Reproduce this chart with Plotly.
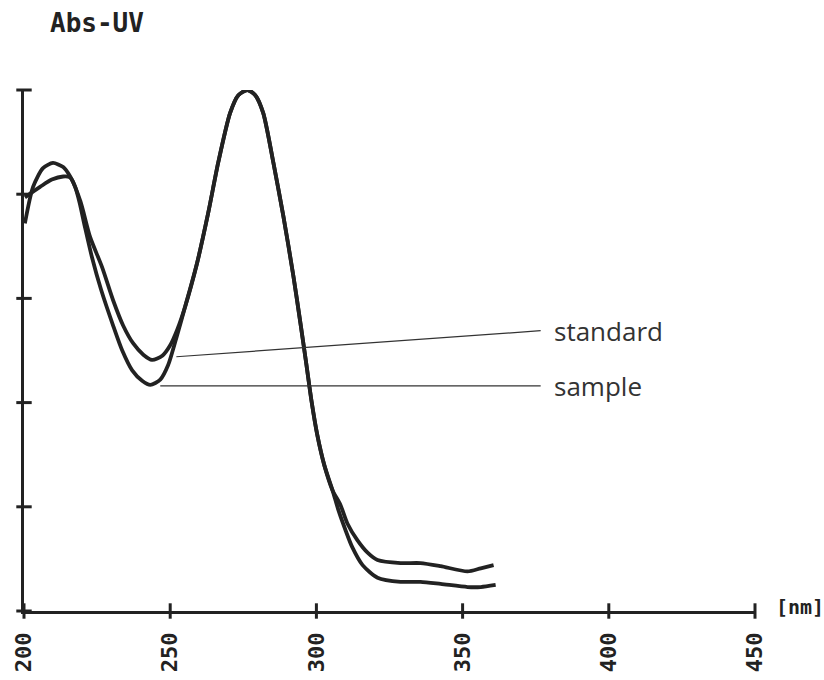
import plotly.graph_objects as go

# Wavelength (nm) and absorbance readings (arbitrary units, 0-5 scale)
sample_nm = [200.3, 203.1, 206.5, 209.9, 213.4, 215.8, 217.5, 219.0, 220.8, 223.2, 226.4, 230.6,
             233.6, 237.0, 240.4, 243.2, 246.6, 249.3, 252.4, 255.1, 259.2, 263.0, 266.4, 270.5,
             273.3, 276.4, 279.1, 281.8, 285.3, 288.7, 292.1, 294.5, 296.6, 298.3, 300.3, 302.7,
             305.5, 307.5, 309.9, 312.3, 315.8, 320.9, 328.8, 335.6, 342.5, 351.7, 356.2, 361.3]
sample_abs = [3.72, 4.07, 4.25, 4.30, 4.26, 4.17, 4.07, 3.92, 3.69, 3.40, 3.08, 2.73,
              2.50, 2.31, 2.21, 2.17, 2.22, 2.36, 2.65, 2.92, 3.34, 3.82, 4.30, 4.78,
              4.95, 5.00, 4.95, 4.78, 4.30, 3.79, 3.22, 2.77, 2.36, 2.02, 1.69, 1.40,
              1.16, 0.97, 0.78, 0.61, 0.44, 0.32, 0.28, 0.28, 0.26, 0.23, 0.23, 0.25]

standard_nm = [200.3, 205.5, 209.5, 213.4, 215.8, 219.2, 222.6, 226.7, 230.5, 233.9, 237.3, 240.8,
               243.8, 247.3, 250.0, 252.4, 255.1, 259.2, 263.0, 266.4, 270.5, 273.3, 276.4, 279.1,
               281.8, 285.3, 288.7, 292.1, 294.5, 296.6, 298.3, 300.3, 302.7, 305.5, 308.2,
               310.6, 314.0, 317.5, 320.9, 328.8, 335.6, 342.5, 351.7, 356.2, 360.6]
standard_abs = [3.97, 4.07, 4.14, 4.17, 4.16, 3.94, 3.59, 3.30, 2.98, 2.74, 2.57, 2.46,
                2.41, 2.45, 2.55, 2.70, 2.92, 3.34, 3.82, 4.30, 4.78, 4.95, 5.00, 4.95,
                4.78, 4.30, 3.79, 3.22, 2.77, 2.36, 2.02, 1.69, 1.40, 1.16, 1.02,
                0.84, 0.68, 0.56, 0.49, 0.46, 0.46, 0.43, 0.38, 0.41, 0.44]

x_ticks = [200, 250, 300, 350, 400, 450]
x_tick_labels = ["200", "250", "300", "350", "400", "450"]
y_ticks = [0, 1, 2, 3, 4, 5]

# label leader points: (curve point) -> (label position)
labels = ["standard", "sample"]
label_curve_nm = [252.1, 246.6]
label_curve_abs = [2.44, 2.16]
label_text_nm = [376.7, 376.7]
label_text_abs = [2.69, 2.16]

ink = "#222222"

fig = go.Figure()
for xs, ys in ((standard_nm, standard_abs), (sample_nm, sample_abs)):
    fig.add_trace(go.Scatter(x=xs, y=ys, mode="lines",
                             line=dict(color=ink, width=3.8, shape="spline", smoothing=0.7),
                             showlegend=False, hoverinfo="skip"))

# tick marks crossing the axes
fig.add_trace(go.Scatter(x=x_ticks, y=[0] * len(x_ticks), mode="markers",
                         marker=dict(symbol="line-ns", size=11, line=dict(width=3, color=ink)),
                         cliponaxis=False, showlegend=False, hoverinfo="skip"))
fig.add_trace(go.Scatter(x=[200] * len(y_ticks), y=y_ticks, mode="markers",
                         marker=dict(symbol="line-ew", size=11, line=dict(width=3, color=ink)),
                         cliponaxis=False, showlegend=False, hoverinfo="skip"))

for t, cx, cy, tx, ty in zip(labels, label_curve_nm, label_curve_abs, label_text_nm, label_text_abs):
    fig.add_trace(go.Scatter(x=[cx, tx], y=[cy, ty], mode="lines",
                             line=dict(color="#333", width=1.2),
                             showlegend=False, hoverinfo="skip"))
    fig.add_annotation(x=tx, y=ty, xref="x", yref="y", text=t, showarrow=False,
                       xanchor="left", yanchor="middle", xshift=11,
                       font=dict(family="Open Sans", size=26, color="#333"))

fig.add_annotation(x=0.033, y=1.0, xref="paper", yref="paper", yshift=50,
                   text="<b>Abs-UV</b>", showarrow=False, xanchor="left", yanchor="bottom",
                   font=dict(family="DejaVu Sans Mono", size=26, color=ink))
fig.add_annotation(x=1.0, y=0.0, xref="paper", yref="paper", xshift=19, yshift=-10,
                   text="<b>[nm]</b>", showarrow=False, xanchor="left", yanchor="bottom",
                   font=dict(family="DejaVu Sans Mono", size=20, color=ink))

fig.update_xaxes(range=[200, 450], showline=True, linecolor=ink, linewidth=2.5,
                 showgrid=False, zeroline=False, ticks="", automargin=False,
                 tickmode="array", tickvals=x_ticks,
                 ticktext=["<b>%s</b>" % s for s in x_tick_labels],
                 tickangle=-90, ticklabelstandoff=10,
                 tickfont=dict(family="DejaVu Sans Mono", size=22, color=ink))
fig.update_yaxes(range=[0, 5], showline=True, linecolor=ink, linewidth=2.5,
                 showgrid=False, zeroline=False, ticks="", showticklabels=False,
                 automargin=False, tickvals=y_ticks)

fig.update_layout(width=824, height=680, margin=dict(l=24, r=69, t=90, b=69),
                  plot_bgcolor="white", paper_bgcolor="white")

fig.write_html("out.html")
